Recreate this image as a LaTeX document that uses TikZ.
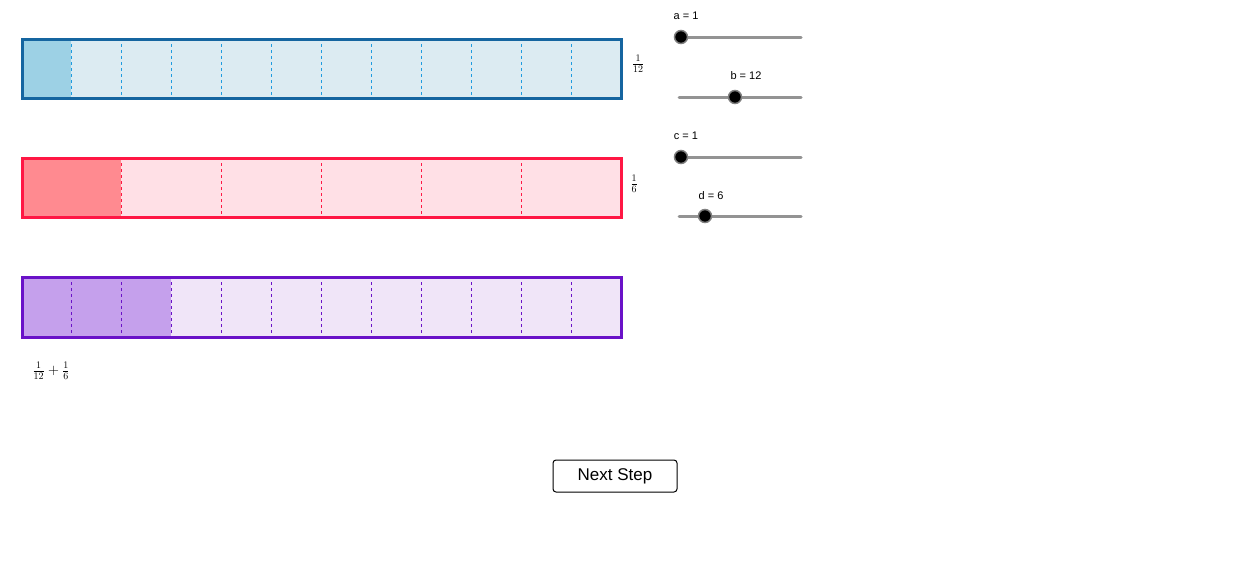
\documentclass[tikz,border=0pt]{standalone}
\usepackage{fontspec}
\newfontfamily\uisans{Liberation Sans}
\begin{document}
\begin{tikzpicture}[x=1pt,y=-1pt,
  lbl/.style={font=\uisans\fontsize{11}{12}\selectfont,inner sep=0pt},
  frac/.style={font=\fontsize{14}{16}\selectfont,inner sep=0pt},
  track/.style={draw=gray!85,line width=3pt,line cap=round},
  knob/.style={circle,fill=black,draw=gray,line width=1.5pt,minimum size=13pt,inner sep=0pt}]
\useasboundingbox (0,0) rectangle (1234,584);
\definecolor{bA}{HTML}{1565A0}\definecolor{bF}{HTML}{DCEBF2}\definecolor{bS}{HTML}{9DD1E5}\definecolor{bD}{HTML}{1E9BE0}
\definecolor{rA}{HTML}{FF1744}\definecolor{rF}{HTML}{FFE0E6}\definecolor{rS}{HTML}{FF8A90}
\definecolor{pA}{HTML}{6A12C8}\definecolor{pF}{HTML}{F0E5F8}\definecolor{pS}{HTML}{C5A0EC}
% bar 1
\fill[bF] (21,38) rectangle (620,97);
\fill[bS] (21,38) rectangle (71,97);
\foreach \i in {1,...,11} \draw[bD,dashed,line width=1pt] (21+50*\i,38) -- (21+50*\i,97);
\node[draw=bA,line width=2.5pt,minimum width=599pt,minimum height=59pt,inner sep=0pt,anchor=north west] (b1) at (21,38) {};
% bar 2
\fill[rF] (21,157) rectangle (620,216);
\fill[rS] (21,157) rectangle (121,216);
\foreach \i in {1,...,5} \draw[rA,dashed,line width=1pt] (21+100*\i,157) -- (21+100*\i,216);
\node[draw=rA,line width=2.5pt,minimum width=599pt,minimum height=59pt,inner sep=0pt,anchor=north west] (b2) at (21,157) {};
% bar 3
\fill[pF] (21,276) rectangle (620,336);
\fill[pS] (21,276) rectangle (171,336);
\foreach \i in {1,...,11} \draw[pA,dashed,line width=1pt] (21+50*\i,276) -- (21+50*\i,336);
\node[draw=pA,line width=2.5pt,minimum width=599pt,minimum height=60pt,inner sep=0pt,anchor=north west] (b3) at (21,276) {};
% labels
\node[frac] (f1) at (638,64) {$\frac{1}{12}$};
\node[frac] (f2) at (634,184) {$\frac{1}{6}$};
\node[frac] (f3) at (51,371) {$\frac{1}{12}+\frac{1}{6}$};
% sliders
\draw[track] (681,37) -- (801,37); \node[knob] (ka) at (681,37) {}; \node[lbl] (la) at (686,16) {a = 1};
\draw[track] (679,97) -- (801,97); \node[knob] (kb) at (735,97) {}; \node[lbl] (lb) at (746,76) {b = 12};
\draw[track] (681,157) -- (801,157); \node[knob] (kc) at (681,157) {}; \node[lbl] (lc) at (686,136) {c = 1};
\draw[track] (679,216) -- (801,216); \node[knob] (kd) at (705,216) {}; \node[lbl] (ld) at (711,196) {d = 6};
% button
\node[draw=black,rounded corners=3pt,line width=1pt,minimum width=124pt,minimum height=32pt,inner sep=0pt,font=\uisans\fontsize{17}{20}\selectfont] (btn) at (615,476) {Next Step};
\end{tikzpicture}
\end{document}
